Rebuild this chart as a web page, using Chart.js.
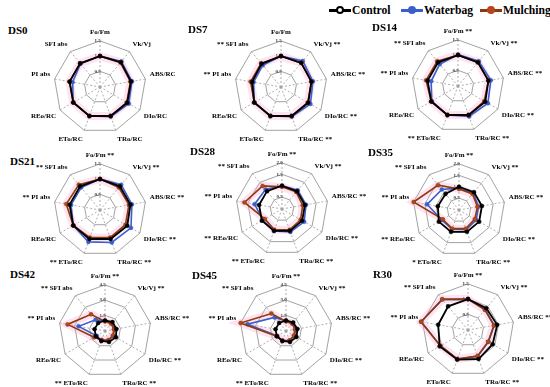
<!DOCTYPE html>
<html>
<head>
<meta charset="utf-8">
<script src="https://cdn.jsdelivr.net/npm/chart.js@4.4.0/dist/chart.umd.min.js"></script>
<style>
  body { margin: 0; width: 550px; height: 387px; background: #fff; position: relative; overflow: hidden;
         font-family: "Liberation Serif", "Times New Roman", serif; }
  .box { position: absolute; }
  .ttl { position: absolute; font-weight: bold; font-size: 11px; color: #000; }
  .sym { position: absolute; top: 4px; width: 22px; height: 14px; }
  .sym .ln { position: absolute; left: 0; right: 0; top: 5px; height: 3px; }
  .sym .dt { position: absolute; left: 7px; top: 2px; width: 8px; height: 8px; border-radius: 50%; }
  .lt { position: absolute; top: 2px; font-weight: bold; font-size: 13.5px; transform: scaleX(0.86); transform-origin: left center; }
</style>
</head>
<body>
<div class="sym" style="left:329px"><div class="ln" style="background:#000"></div><div class="dt" style="background:#fff;border:2px solid #000;width:4px;height:4px"></div></div>
<div class="lt" style="left:352px">Control</div>
<div class="sym" style="left:401px"><div class="ln" style="background:#3a5fcd"></div><div class="dt" style="background:#3a5fcd"></div></div>
<div class="lt" style="left:424px">Waterbag</div>
<div class="sym" style="left:480px"><div class="ln" style="background:#8b3a0e"></div><div class="dt" style="background:#b5451b"></div></div>
<div class="lt" style="left:503px">Mulching</div>

<script>
var axes = ["Fo/Fm", "Vk/Vj", "ABS/RC", "DIo/RC", "TRo/RC", "ETo/RC", "REo/RC", "PI abs", "SFI abs"];
var panels = ["DS0", "DS7", "DS14", "DS21", "DS28", "DS35", "DS42", "DS45", "R30"];

var control = [
  [1.00, 1.05, 1.02, 1.02, 1.00, 1.00, 1.00, 1.00, 1.00],
  [1.00, 1.02, 1.00, 1.02, 1.00, 1.00, 1.00, 0.95, 0.98],
  [1.00, 1.00, 1.00, 1.02, 1.00, 1.00, 1.00, 1.00, 1.00],
  [1.00, 1.00, 1.00, 1.02, 1.00, 1.00, 1.00, 1.00, 1.00],
  [1.00, 1.00, 1.00, 1.00, 1.00, 1.00, 1.00, 1.00, 1.00],
  [1.00, 1.00, 1.00, 1.00, 1.00, 1.00, 1.00, 0.92, 0.90],
  [1.00, 1.10, 1.10, 1.20, 1.10, 1.00, 1.00, 1.00, 1.00],
  [1.00, 1.05, 1.10, 1.15, 1.10, 1.00, 1.00, 1.00, 1.00],
  [1.00, 0.92, 0.96, 0.92, 1.00, 1.02, 1.06, 0.98, 1.00]
];
var waterbag = [
  [1.00, 1.08, 1.05, 1.08, 1.02, 1.00, 1.00, 0.90, 0.98],
  [1.00, 1.10, 1.05, 1.10, 1.02, 1.00, 1.00, 0.90, 0.92],
  [1.02, 1.05, 1.08, 1.12, 1.05, 1.00, 0.98, 0.88, 0.92],
  [1.00, 1.07, 1.05, 1.16, 1.12, 1.10, 1.00, 0.95, 0.95],
  [1.00, 1.05, 1.05, 1.10, 1.05, 1.00, 0.95, 1.20, 1.10],
  [0.95, 0.95, 0.85, 0.85, 0.90, 0.88, 0.85, 1.40, 1.15],
  [0.95, 0.95, 0.90, 0.90, 0.95, 0.95, 0.90, 2.60, 1.40],
  [0.95, 0.95, 0.95, 0.90, 0.95, 1.00, 0.95, 3.80, 1.70],
  [1.00, 0.86, 0.86, 0.76, 0.90, 1.00, 1.03, 1.55, 1.30]
];
var mulching = [
  [1.00, 1.04, 1.00, 1.00, 1.00, 1.00, 1.00, 1.00, 1.00],
  [1.00, 1.02, 1.00, 1.00, 1.00, 1.00, 1.00, 1.00, 1.00],
  [1.00, 1.00, 1.00, 0.98, 1.00, 1.00, 1.00, 1.05, 1.05],
  [1.00, 0.95, 0.95, 0.95, 0.95, 0.95, 1.00, 1.11, 1.07],
  [0.95, 0.95, 0.90, 0.92, 0.95, 0.95, 0.85, 1.65, 1.30],
  [0.90, 0.90, 0.80, 0.78, 0.85, 0.85, 0.80, 2.00, 1.40],
  [0.90, 0.90, 0.85, 0.85, 0.90, 0.90, 1.20, 3.70, 2.10],
  [0.90, 0.90, 0.85, 0.85, 0.95, 0.95, 1.00, 4.50, 2.20],
  [1.00, 0.85, 0.85, 0.75, 0.90, 1.00, 1.03, 1.55, 1.30]
];
var scaleMax = [1.5, 1.5, 1.5, 1.5, 2.0, 2.0, 4.5, 4.5, 1.5];
var scaleStep = [0.5, 0.5, 0.5, 0.5, 0.5, 0.5, 1.5, 1.5, 0.5];
// significance marks per axis
var signif = [
  ["", "", "", "", "", "", "", "", ""],
  ["", "**", "**", "**", "**", "", "", "**", "**"],
  ["**", "**", "**", "**", "**", "**", "", "**", "**"],
  ["**", "**", "**", "**", "**", "**", "", "**", "**"],
  ["**", "**", "**", "**", "**", "**", "**", "**", "**"],
  ["**", "**", "**", "**", "**", "*", "**", "**", "**"],
  ["**", "**", "**", "**", "**", "**", "", "**", "**"],
  ["**", "**", "**", "**", "**", "**", "", "**", "**"],
  ["**", "**", "**", "**", "**", "", "", "**", "**"]
];

var centers = [[100, 86], [281, 86], [458, 85], [100, 209], [282, 208], [459, 209], [105, 330], [286, 330], [468, 329]];
var titlePos = [[8, 24], [188, 23], [372, 21], [10, 155], [190, 145], [368, 146], [10, 268], [192, 269], [373, 268]];

var W = 210, H = 118;

panels.forEach(function (name, p) {
  var t = document.createElement("div");
  t.className = "ttl";
  t.style.left = titlePos[p][0] + "px";
  t.style.top = titlePos[p][1] + "px";
  t.textContent = name;
  document.body.appendChild(t);

  var box = document.createElement("div");
  box.className = "box";
  box.style.left = (centers[p][0] - W / 2) + "px";
  box.style.top = (centers[p][1] - H / 2) + "px";
  var cv = document.createElement("canvas");
  cv.width = W; cv.height = H;
  box.appendChild(cv);
  document.body.appendChild(box);

  var labels = axes.map(function (a, i) {
    var s = signif[p][i];
    if (!s) return a;
    return i <= 4 ? a + " " + s : s + " " + a;
  });

  var mk = function (label, vals, line, dot, w) {
    return {
      label: label, data: vals, borderColor: line, backgroundColor: dot,
      pointBackgroundColor: dot, pointBorderColor: line, pointRadius: 2,
      pointBorderWidth: 0.5, borderWidth: w, fill: false
    };
  };
  // soft pink band drawn under the treatment lines
  var halo = {
    label: "band", data: mulching[p], borderColor: "rgba(255,160,205,0.3)",
    borderWidth: 8, pointRadius: 0, fill: false
  };

  new Chart(cv, {
    type: "radar",
    data: {
      labels: labels,
      datasets: [
        mk("Control", control[p], "#000000", "#000000", 1.8),
        mk("Mulching", mulching[p], "#8b3a0e", "#b5451b", 1.6),
        mk("Waterbag", waterbag[p], "#3a5fcd", "#3a5fcd", 1.6),
        halo
      ]
    },
    options: {
      responsive: false,
      animation: false,
      plugins: { legend: { display: false }, tooltip: { enabled: false } },
      layout: { padding: 0 },
      scales: {
        r: {
          min: -scaleMax[p] * 0.01,
          max: scaleMax[p],
          ticks: {
            stepSize: scaleStep[p],
            showLabelBackdrop: false,
            font: { size: 5, weight: "bold", family: "Liberation Serif" },
            color: "#333",
            callback: function (v) { return v < 0 ? "" : v.toFixed(1) + "    "; }
          },
          grid: { circular: false, color: "#8a8a8a", lineWidth: 0.8 },
          angleLines: { color: "#9a9a9a", lineWidth: 0.8, borderDash: [2, 2] },
          pointLabels: {
            font: { size: 7, weight: "bold", family: "Liberation Serif" },
            color: "#000",
            padding: 0
          }
        }
      }
    }
  });
});
</script>
</body>
</html>
